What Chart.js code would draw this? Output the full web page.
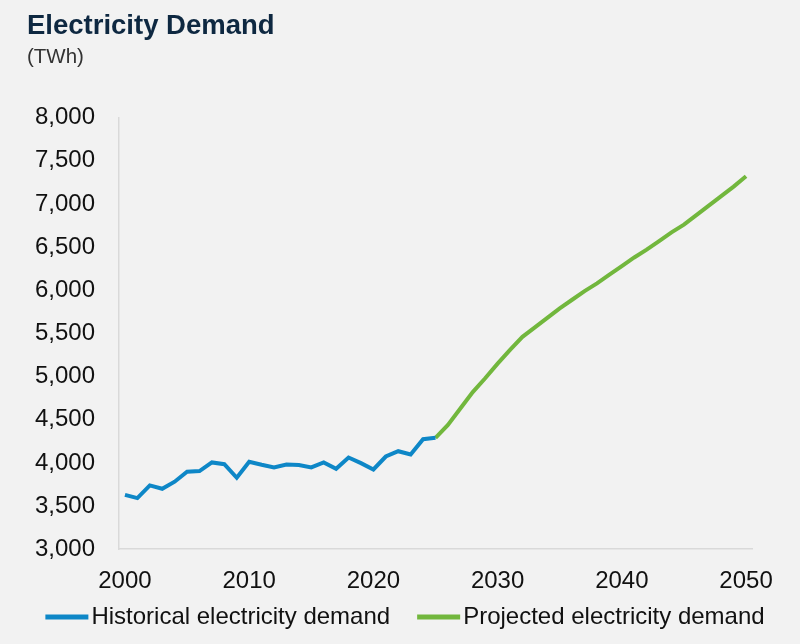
<!DOCTYPE html>
<html>
<head>
<meta charset="utf-8">
<script src="https://cdn.jsdelivr.net/npm/chart.js@4"></script>
<style>
  html, body { margin: 0; padding: 0; background: #f2f2f2; }
  #wrap { width: 800px; height: 644px; }
</style>
</head>
<body>
<div id="wrap"><canvas id="chart" width="800" height="644"></canvas></div>
<script>
// years and values (TWh)
const histYears = [2000, 2001, 2002, 2003, 2004, 2005, 2006, 2007, 2008, 2009,
  2010, 2011, 2012, 2013, 2014, 2015, 2016, 2017, 2018, 2019,
  2020, 2021, 2022, 2023, 2024, 2025];
const histValues = [3630, 3592, 3739, 3700, 3782, 3897, 3905, 4005, 3985, 3828,
  4013, 3978, 3947, 3981, 3975, 3947, 4005, 3932, 4062, 3997,
  3924, 4074, 4135, 4097, 4274, 4290];
const projYears = [2025, 2026, 2027, 2028, 2029, 2030, 2031, 2032, 2033, 2034,
  2035, 2036, 2037, 2038, 2039, 2040, 2041, 2042, 2043, 2044,
  2045, 2046, 2047, 2048, 2049, 2050];
const projValues = [4290, 4440, 4630, 4820, 4980, 5150, 5310, 5460, 5570, 5680,
  5790, 5890, 5990, 6080, 6180, 6280, 6380, 6470, 6570, 6670,
  6760, 6870, 6980, 7090, 7200, 7320];
const xTicks = [2000, 2010, 2020, 2030, 2040, 2050];
const seriesNames = ['Historical electricity demand', 'Projected electricity demand'];
const seriesColors = ['#0e87c7', '#72b73d'];

const font = "'Liberation Sans', Arial, sans-serif";

const toPoints = (xs, ys) => xs.map((x, i) => ({ x: x, y: ys[i] }));

// legend drawn under the axis: short line then text right next to it
const lineLegend = {
  id: 'lineLegend',
  afterDraw(chart) {
    const c = chart.ctx;
    const items = chart.data.datasets.map(d => ({ text: d.label, color: d.borderColor }));
    c.save();
    c.font = '24px ' + font;
    c.textBaseline = 'middle';
    const lineW = 43, gapText = 3, gapItem = 27;
    const widths = items.map(it => c.measureText(it.text).width);
    let total = 0;
    widths.forEach((w, i) => { total += lineW + gapText + w + (i ? gapItem : 0); });
    let x = 405 - total / 2;
    const y = 617;
    items.forEach((it, i) => {
      c.fillStyle = it.color;
      c.fillRect(x, y - 2.5, lineW, 5);
      c.fillStyle = '#111111';
      c.fillText(it.text, x + lineW + gapText, y);
      x += lineW + gapText + widths[i] + gapItem;
    });
    c.restore();
  }
};

const ctx = document.getElementById('chart').getContext('2d');
new Chart(ctx, {
  type: 'line',
  data: {
    datasets: [
      {
        label: seriesNames[0],
        data: toPoints(histYears, histValues),
        borderColor: seriesColors[0],
        backgroundColor: seriesColors[0],
        borderWidth: 4,
        pointRadius: 0,
        tension: 0
      },
      {
        label: seriesNames[1],
        data: toPoints(projYears, projValues),
        borderColor: seriesColors[1],
        backgroundColor: seriesColors[1],
        borderWidth: 4,
        pointRadius: 0,
        tension: 0
      }
    ]
  },
  plugins: [lineLegend],
  options: {
    responsive: false,
    animation: false,
    layout: { padding: { left: 27, right: 48, top: 10, bottom: 38 } },
    plugins: {
      title: {
        display: true,
        text: 'Electricity Demand',
        align: 'start',
        color: '#0e2841',
        font: { family: font, size: 27.5, weight: 'bold' },
        padding: { top: 0, bottom: 2 }
      },
      subtitle: {
        display: true,
        text: '(TWh)',
        align: 'start',
        color: '#333333',
        font: { family: font, size: 20.5 },
        padding: { top: 0, bottom: 48 }
      },
      legend: { display: false },
      tooltip: { enabled: false }
    },
    scales: {
      x: {
        type: 'linear',
        min: 1999.52,
        max: 2050.48,
        afterBuildTicks: axis => { axis.ticks = xTicks.map(v => ({ value: v })); },
        grid: { display: false },
        border: { display: true, color: '#d9d9d9', width: 1.5 },
        ticks: {
          color: '#111111',
          font: { family: font, size: 24 },
          padding: 10,
          maxRotation: 0,
          callback: v => String(v)
        }
      },
      y: {
        min: 3000,
        max: 8000,
        afterFit: axis => { axis.width = 92; },
        grid: { display: false },
        border: { display: true, color: '#d9d9d9', width: 1.5 },
        ticks: {
          stepSize: 500,
          color: '#111111',
          font: { family: font, size: 24 },
          padding: 16,
          callback: v => v.toLocaleString('en-US')
        }
      }
    }
  }
});
</script>
</body>
</html>
